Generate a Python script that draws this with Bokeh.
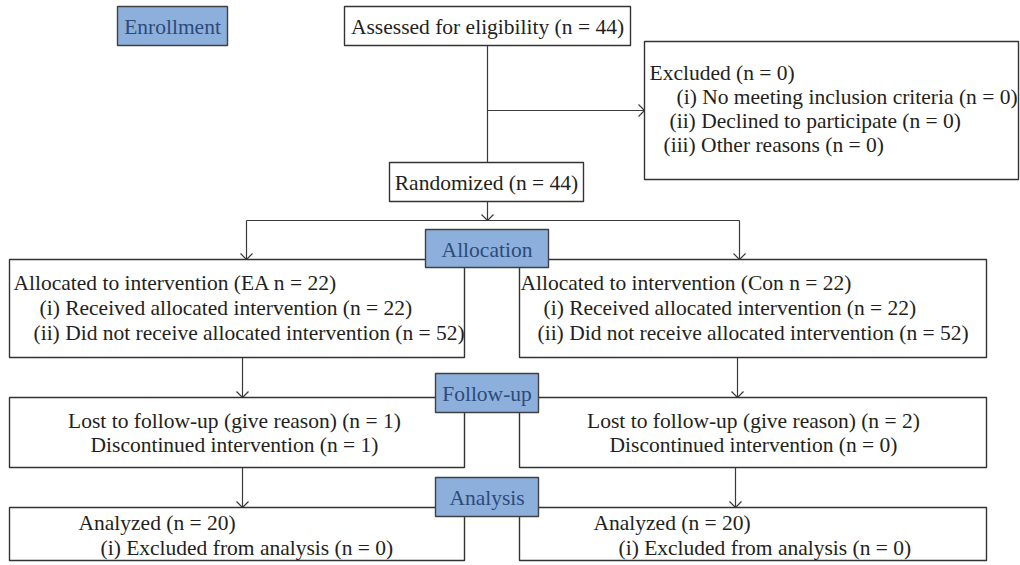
from bokeh.plotting import figure
from bokeh.models import Range1d
from bokeh.core.properties import value
from bokeh.embed import file_html
from bokeh.resources import INLINE

# ---------------- data (CONSORT flow counts and labels) ----------------
stage_labels = ["Enrollment", "Allocation", "Follow-up", "Analysis"]
assessed_n = 44
excluded_total = 0
excluded_numerals = ["(i)", "(ii)", "(iii)"]
excluded_reasons = ["No meeting inclusion criteria", "Declined to participate", "Other reasons"]
excluded_n = [0, 0, 0]
randomized_n = 44
groups = ["EA", "Con"]
allocated_n = [22, 22]
received_n = [22, 22]
not_received_n = [52, 52]
lost_n = [1, 2]
discontinued_n = [1, 0]
analyzed_n = [20, 20]
excluded_analysis_n = [0, 0]

# ---------------- layout (reference pixel space) ----------------
FONT = value("Liberation Serif")
FS = "21.5px"
INK = "#231f20"
LINE = "#3a3a3a"
BLUE_FILL = "#8dafdc"
BLUE_TEXT = "#2d4a7a"

p = figure(width=1020, height=565, x_range=Range1d(0, 1020), y_range=Range1d(565, 0),
           x_axis_type=None, y_axis_type=None, toolbar_location=None,
           output_backend="svg", min_border=0, outline_line_color=None)
p.grid.visible = False
p.background_fill_color = "white"

col_x = [(9, 464), (519, 986)]
row_y = [(259, 357), (397, 467), (507, 560)]

white_boxes = [
    (344, 630, 6, 45),      # assessed
    (644, 1018, 41, 179),   # excluded
    (389, 583, 162, 201),   # randomized
]
for (l, r) in col_x:
    for (t, b) in row_y:
        white_boxes.append((l, r, t, b))

blue_boxes = [
    (117, 227, 6, 45),
    (425, 548, 229, 267),
    (435, 538, 373, 412),
    (435, 538, 477, 516),
]

# connector lines
seg_x0, seg_y0, seg_x1, seg_y1 = [], [], [], []
heads_x, heads_y = [], []


def line(x0, y0, x1, y1):
    seg_x0.append(x0); seg_y0.append(y0); seg_x1.append(x1); seg_y1.append(y1)


def arrow_down(x, y0, y1):
    line(x, y0, x, y1)
    heads_x.append([x - 6, x, x + 6]); heads_y.append([y1 - 6, y1, y1 - 6])


def arrow_right(y, x0, x1):
    line(x0, y, x1, y)
    heads_x.append([x1 - 6, x1, x1 - 6]); heads_y.append([y - 6, y, y + 6])


line(487, 45, 487, 162)
arrow_right(110, 487, 644)
arrow_down(487, 201, 220)
line(246, 220, 739, 220)
arrow_down(246, 220, 259)
arrow_down(739, 220, 259)
arrow_down(242, 357, 397)
arrow_down(737, 357, 397)
arrow_down(242, 467, 507)
arrow_down(735, 467, 507)

p.segment(seg_x0, seg_y0, seg_x1, seg_y1, line_color=LINE, line_width=1.2)
p.multi_line(heads_x, heads_y, line_color=LINE, line_width=1.2)

p.quad(left=[b[0] for b in white_boxes], right=[b[1] for b in white_boxes],
       top=[b[2] for b in white_boxes], bottom=[b[3] for b in white_boxes],
       fill_color="white", line_color="#333333", line_width=1.4)
p.quad(left=[b[0] for b in blue_boxes], right=[b[1] for b in blue_boxes],
       top=[b[2] for b in blue_boxes], bottom=[b[3] for b in blue_boxes],
       fill_color=BLUE_FILL, line_color="#404040", line_width=1.4)

# stage labels
p.text(x=[(b[0] + b[1]) / 2 for b in blue_boxes], y=[(b[2] + b[3]) / 2 + 1 for b in blue_boxes],
       text=stage_labels, text_font=FONT, text_font_size=FS, text_color=BLUE_TEXT,
       text_align="center", text_baseline="middle")

# centred texts
c_x, c_y, c_t = [], [], []
c_x.append(487); c_y.append(26); c_t.append(f"Assessed for eligibility (n = {assessed_n})")
c_x.append(486); c_y.append(182); c_t.append(f"Randomized (n = {randomized_n})")
centres = [234, 753]
for g in range(2):
    c_x += [centres[g], centres[g]]
    c_y += [420, 444]
    c_t += [f"Lost to follow-up (give reason) (n = {lost_n[g]})",
            f"Discontinued intervention (n = {discontinued_n[g]})"]
p.text(x=c_x, y=c_y, text=c_t, text_font=FONT, text_font_size=FS, text_color=INK,
       text_align="center", text_baseline="middle")

# left-aligned texts
l_x, l_y, l_t = [], [], []
l_x.append(649); l_y.append(72); l_t.append(f"Excluded (n = {excluded_total})")
ex_starts = [676, 669, 663]
for i in range(3):
    l_x.append(ex_starts[i]); l_y.append(96 + 24 * i)
    l_t.append(f"{excluded_numerals[i]} {excluded_reasons[i]} (n = {excluded_n[i]})")

alloc_starts = [(13, 39, 33), (520, 543, 537)]
analysis_starts = [(78, 100), (593, 618)]
for g in range(2):
    a, b, c = alloc_starts[g]
    l_x += [a, b, c]
    l_y += [282, 307, 332]
    l_t += [f"Allocated to intervention ({groups[g]} n = {allocated_n[g]})",
            f"(i) Received allocated intervention (n = {received_n[g]})",
            f"(ii) Did not receive allocated intervention (n = {not_received_n[g]})"]
    a, b = analysis_starts[g]
    l_x += [a, b]
    l_y += [522, 547]
    l_t += [f"Analyzed (n = {analyzed_n[g]})",
            f"(i) Excluded from analysis (n = {excluded_analysis_n[g]})"]
p.text(x=l_x, y=l_y, text=l_t, text_font=FONT, text_font_size=FS, text_color=INK,
       text_align="left", text_baseline="middle")

open("out.html", "w").write(file_html(p, INLINE))
